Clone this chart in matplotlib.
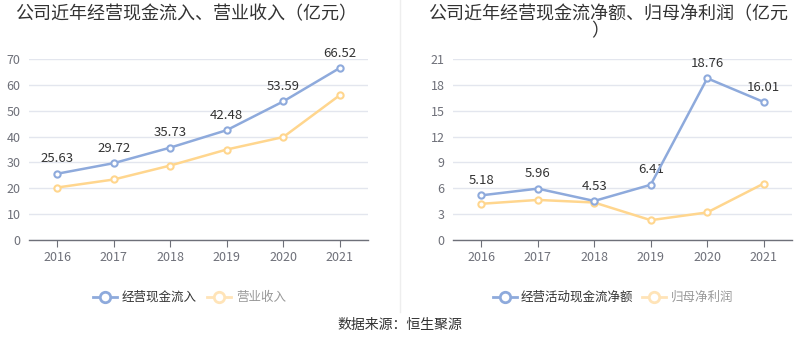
import matplotlib
matplotlib.use("Agg")
import matplotlib.pyplot as plt
from matplotlib.lines import Line2D

plt.rcParams['font.family'] = ['Noto Sans CJK SC', 'DejaVu Sans']

years = ['2016', '2017', '2018', '2019', '2020', '2021']
cash_inflow = [25.63, 29.72, 35.73, 42.48, 53.59, 66.52]
revenue = [20.3, 23.4, 28.8, 35.0, 39.8, 56.0]
net_cash = [5.18, 5.96, 4.53, 6.41, 18.76, 16.01]
net_profit = [4.2, 4.65, 4.35, 2.3, 3.2, 6.55]

left_ticks = [0, 10, 20, 30, 40, 50, 60, 70]
right_ticks = [0, 3, 6, 9, 12, 15, 18, 21]

BLUE = '#8eaadc'
ORANGE = '#ffd68e'
GRID = '#e3e6ee'
TICKC = '#6e7079'

W, H = 800, 358
fig = plt.figure(figsize=(8, 3.58), dpi=100)

def make_axes(x0, x1, y_bottom, y_top):
    return fig.add_axes([x0 / W, 1 - y_bottom / H, (x1 - x0) / W, (y_bottom - y_top) / H])

def style(ax, ticks):
    ax.set_xlim(-0.5, 5.5)
    ax.set_ylim(ticks[0], ticks[-1])
    ax.set_yticks(ticks)
    ax.set_xticks(range(len(years)))
    ax.set_xticklabels(years)
    for s in ['top', 'right', 'left']:
        ax.spines[s].set_visible(False)
    ax.spines['bottom'].set_color('#6e7079')
    ax.spines['bottom'].set_linewidth(1)
    ax.grid(axis='y', color=GRID, linewidth=1)
    ax.set_axisbelow(True)
    ax.tick_params(axis='y', length=0, labelsize=9, labelcolor=TICKC, pad=6)
    ax.tick_params(axis='x', length=5, color='#6e7079', labelsize=9, labelcolor=TICKC, pad=3)

def plot_series(ax, vals, color, z):
    ax.plot(range(len(vals)), vals, color=color, linewidth=1.8, marker='o',
            markersize=4.5, markerfacecolor='white', markeredgecolor=color,
            markeredgewidth=1.5, zorder=z, clip_on=False)

ax1 = make_axes(29, 368, 240, 59)
style(ax1, left_ticks)
plot_series(ax1, revenue, ORANGE, 3)
plot_series(ax1, cash_inflow, BLUE, 4)
for i, v in enumerate(cash_inflow):
    ax1.annotate(f'{v:.2f}', (i, v), xytext=(0, 6), textcoords='offset points',
                 ha='center', va='bottom', fontsize=9.5, color='#333333')

ax2 = make_axes(453, 792, 240, 59)
style(ax2, right_ticks)
plot_series(ax2, net_profit, ORANGE, 3)
plot_series(ax2, net_cash, BLUE, 4)
for i, v in enumerate(net_cash):
    ax2.annotate(f'{v:.2f}', (i, v), xytext=(0, 6), textcoords='offset points',
                 ha='center', va='bottom', fontsize=9.5, color='#333333')

# titles
fig.text(186 / W, 1 - 14 / H, '公司近年经营现金流入、营业收入（亿元）', ha='center', va='center',
         fontsize=13, color='#333333')
fig.text(608 / W, 1 - 14 / H, '公司近年经营现金流净额、归母净利润（亿元', ha='center', va='center',
         fontsize=13, color='#333333')
fig.text(600 / W, 1 - 31 / H, '）', ha='center', va='center', fontsize=13, color='#333333')

# divider
fig.add_artist(Line2D([400 / W, 400 / W], [1 - 0 / H, 1 - 312 / H], color='#eeeeee', linewidth=1))

# legends
def legend_item(x_icon, x_text, label, color, textcolor):
    y = 1 - 297 / H
    fig.add_artist(Line2D([x_icon / W, (x_icon + 24) / W], [y, y], color=color, linewidth=2))
    fig.add_artist(Line2D([(x_icon + 12) / W], [y], color=color, marker='o', markersize=7.5,
                          markerfacecolor='white', markeredgecolor=color, markeredgewidth=2))
    fig.text(x_text / W, y, label, ha='left', va='center', fontsize=9, color=textcolor)

legend_item(93, 122, '经营现金流入', BLUE, '#333333')
legend_item(207, 236, '营业收入', '#ffe4b8', '#999999')
legend_item(493, 521, '经营活动现金流净额', BLUE, '#333333')
legend_item(642, 671, '归母净利润', '#ffe4b8', '#999999')

fig.text(400 / W, 1 - 325 / H, '数据来源：恒生聚源', ha='center', va='center', fontsize=10,
         color='#333333')

fig.savefig('out.png', dpi=100)
